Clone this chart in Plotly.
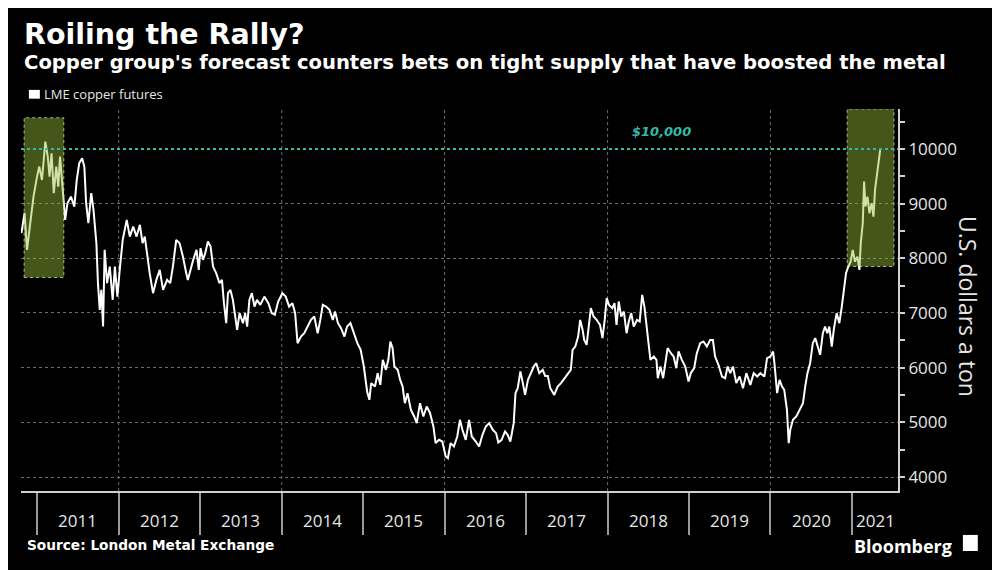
import plotly.graph_objects as go
import pandas as pd

# ---------------- data ----------------
series_name = "LME copper futures"

dates = [
    "2010-10-22", "2010-11-05", "2010-11-16", "2010-12-01", "2010-12-15", "2010-12-31",
    "2011-01-10", "2011-01-22", "2011-02-06", "2011-02-17", "2011-02-25", "2011-03-06", "2011-03-16",
    "2011-03-27", "2011-04-05", "2011-04-13", "2011-04-24", "2011-05-06", "2011-05-16", "2011-06-01",
    "2011-06-16", "2011-06-27", "2011-07-08", "2011-07-21", "2011-07-31", "2011-08-08", "2011-08-18",
    "2011-08-31", "2011-09-10", "2011-09-23", "2011-09-30", "2011-10-08", "2011-10-15", "2011-10-23",
    "2011-10-30", "2011-11-10", "2011-11-22", "2011-12-05", "2011-12-15", "2011-12-26",
    "2012-01-07", "2012-01-19", "2012-02-06", "2012-02-20", "2012-03-06", "2012-03-21", "2012-04-05",
    "2012-04-17", "2012-04-27", "2012-05-08", "2012-05-19", "2012-06-03", "2012-06-18", "2012-07-03",
    "2012-07-18", "2012-08-05", "2012-08-19", "2012-08-31", "2012-09-15", "2012-09-30", "2012-10-15",
    "2012-10-30", "2012-11-06", "2012-11-30", "2012-12-15", "2012-12-25",
    "2013-01-02", "2013-01-13", "2013-01-23", "2013-02-04", "2013-02-16", "2013-02-27", "2013-03-13",
    "2013-03-28", "2013-04-08", "2013-04-17", "2013-04-27", "2013-05-05", "2013-05-16", "2013-05-27",
    "2013-06-03", "2013-06-15", "2013-06-26", "2013-07-11", "2013-07-21", "2013-07-30", "2013-08-09",
    "2013-08-20", "2013-09-01", "2013-09-12", "2013-09-27", "2013-10-15", "2013-11-02", "2013-11-17",
    "2013-12-01", "2013-12-16",
    "2014-01-04", "2014-01-19", "2014-02-03", "2014-02-18", "2014-03-02", "2014-03-13", "2014-03-28",
    "2014-04-12", "2014-04-27", "2014-05-12", "2014-05-27", "2014-06-11", "2014-06-23", "2014-07-04",
    "2014-07-19", "2014-08-03", "2014-08-18", "2014-08-28", "2014-09-10", "2014-09-24", "2014-10-09",
    "2014-10-21", "2014-11-05", "2014-11-21", "2014-12-06", "2014-12-21",
    "2015-01-04", "2015-01-19", "2015-01-29", "2015-02-06", "2015-02-23", "2015-03-07", "2015-03-19",
    "2015-03-30", "2015-04-13", "2015-04-24", "2015-05-03", "2015-05-13", "2015-05-21", "2015-06-05",
    "2015-06-16", "2015-06-27", "2015-07-07", "2015-07-19", "2015-08-03", "2015-08-18", "2015-08-29",
    "2015-09-13", "2015-09-28", "2015-10-13", "2015-10-28", "2015-11-12", "2015-11-22", "2015-12-07",
    "2015-12-22",
    "2016-01-06", "2016-01-16", "2016-01-28", "2016-02-12", "2016-02-27", "2016-03-10", "2016-03-21",
    "2016-04-05", "2016-04-20", "2016-05-02", "2016-05-20", "2016-06-04", "2016-06-19", "2016-07-04",
    "2016-07-19", "2016-08-04", "2016-08-19", "2016-08-29", "2016-09-13", "2016-09-28", "2016-10-10",
    "2016-10-22", "2016-11-06", "2016-11-14", "2016-11-24", "2016-12-06", "2016-12-17", "2016-12-27",
    "2017-01-09", "2017-01-23", "2017-02-04", "2017-02-15", "2017-03-01", "2017-03-16", "2017-03-27",
    "2017-04-08", "2017-04-19", "2017-05-07", "2017-05-22", "2017-06-06", "2017-06-21", "2017-07-06",
    "2017-07-20", "2017-07-28", "2017-08-09", "2017-08-22", "2017-08-31", "2017-09-11", "2017-09-18",
    "2017-09-29", "2017-10-10", "2017-10-18", "2017-10-30", "2017-11-13", "2017-11-28", "2017-12-09",
    "2017-12-19", "2017-12-28",
    "2018-01-07", "2018-01-22", "2018-02-01", "2018-02-10", "2018-02-20", "2018-03-03", "2018-03-15",
    "2018-03-27", "2018-04-06", "2018-04-17", "2018-04-28", "2018-05-13", "2018-05-25", "2018-06-05",
    "2018-06-15", "2018-06-24", "2018-07-04", "2018-07-12", "2018-07-27", "2018-08-08", "2018-08-14",
    "2018-08-26", "2018-09-07", "2018-09-17", "2018-09-27", "2018-10-12", "2018-10-24", "2018-11-05",
    "2018-11-15", "2018-11-30", "2018-12-15", "2018-12-30",
    "2019-01-09", "2019-01-24", "2019-02-05", "2019-02-20", "2019-03-07", "2019-03-22", "2019-04-06",
    "2019-04-18", "2019-04-28", "2019-05-13", "2019-05-29", "2019-06-12", "2019-06-23", "2019-07-05",
    "2019-07-17", "2019-08-01", "2019-08-16", "2019-08-31", "2019-09-15", "2019-10-03", "2019-10-18",
    "2019-11-03", "2019-11-17", "2019-12-05", "2019-12-17",
    "2020-01-01", "2020-01-13", "2020-01-19", "2020-01-31", "2020-02-11", "2020-02-22", "2020-03-03",
    "2020-03-15", "2020-03-23", "2020-03-30", "2020-04-11", "2020-04-26", "2020-05-11", "2020-05-26",
    "2020-06-05", "2020-06-15", "2020-06-27", "2020-07-09", "2020-07-20", "2020-07-30", "2020-08-11",
    "2020-08-23", "2020-09-02", "2020-09-12", "2020-09-21", "2020-10-02", "2020-10-12", "2020-10-24",
    "2020-11-05", "2020-11-16", "2020-11-26", "2020-12-05", "2020-12-15", "2020-12-26",
    "2021-01-04", "2021-01-14", "2021-01-25", "2021-02-03", "2021-02-09", "2021-02-18", "2021-02-24",
    "2021-03-02", "2021-03-11", "2021-03-20", "2021-03-30", "2021-04-07", "2021-04-14", "2021-04-25",
    "2021-05-04", "2021-05-07",
]

prices = [
    8460, 8830, 8154, 8702, 9128, 9494,
    9677, 9433, 10134, 9860, 9494, 9921, 9190,
    9677, 9311, 9860, 9250, 8702, 9007, 9128,
    8946, 9433, 9738, 9830, 9677, 9007, 8641,
    9190, 8885, 8276, 7545, 7057, 7422, 6752,
    8154, 7545, 7849, 7240, 7849, 7300,
    7849, 8337, 8702, 8397, 8580, 8397, 8611,
    8276, 8397, 8031, 7728, 7362, 7605, 7788,
    7422, 7605, 7545, 7849, 8337, 8276, 8031,
    7728, 7605, 7971, 8154, 7788,
    8185, 7971, 8093, 8306, 8215, 7849, 7728,
    7545, 7605, 7180, 6814, 7362, 7422, 7240,
    7057, 6691, 6997, 6814, 6997, 6752, 7240,
    7362, 7118, 7240, 7149, 7300, 7180, 6997,
    6966, 7210,
    7362, 7300, 7118, 7180, 6997, 6448, 6569,
    6630, 6752, 6874, 6935, 6630, 6874, 7149,
    7118, 7057, 6874, 7027, 6814, 6722, 6569,
    6752, 6814, 6630, 6448, 6326,
    6021, 5560, 5412, 5717, 5655, 5899, 5686,
    6143, 5960, 6143, 6478, 6357, 6021, 5960,
    5777, 5655, 5351, 5534, 5229, 5107, 4986,
    5351, 5107, 5290, 5168, 4925, 4620, 4681,
    4650,
    4376, 4346, 4620, 4559, 4742, 5046, 4864,
    4681, 5046, 4742, 4650, 4559, 4772, 4925,
    4986, 4864, 4803, 4632, 4681, 4833, 4772,
    4650, 4986, 5534, 5625, 5930, 5717, 5503,
    5777, 5899, 6021, 6082, 5899, 5960, 5850,
    5850, 5625, 5503, 5655, 5717, 5808, 5899,
    5960, 6326, 6386, 6569, 6874, 6691, 6508,
    6417, 6814, 7088, 6935, 6874, 6783, 6540,
    6874, 7271,
    7149, 7088, 7180, 6783, 7210, 6935, 7027,
    6630, 6844, 6997, 6752, 6874, 6844, 7331,
    7118, 6752, 6448, 6143, 6204, 6143, 5808,
    6021, 5808, 6082, 6357, 6265, 6204, 5991,
    6296, 6143, 6021, 5747,
    5899, 5991, 6265, 6448, 6478, 6386, 6508,
    6508, 6204, 6052, 5838, 5808, 6021, 5899,
    6021, 5717, 5838, 5625, 5899, 5686, 5899,
    5838, 5899, 5838, 6174,
    6204, 6296, 6082, 5534, 5777, 5655, 5594,
    5229, 4620, 4864, 5046, 5107, 5229, 5351,
    5655, 5899, 6082, 6448, 6540, 6386, 6235,
    6630, 6752, 6630, 6752, 6386, 6722, 6997,
    6814, 7118, 7422, 7728, 7849, 7941,
    8154, 7941, 8031, 7788, 8276, 8641, 9403,
    8946, 9128, 8824, 9007, 8763, 9250, 9616,
    9951, 9980,
]

year_labels = [2011, 2012, 2013, 2014, 2015, 2016, 2017, 2018, 2019, 2020, 2021]
grid_years = ["2012-01-01", "2014-01-01", "2016-01-01", "2018-01-01", "2020-01-01"]
y_ticks = [4000, 5000, 6000, 7000, 8000, 9000, 10000]
threshold = 10000
threshold_label = "$10,000"
threshold_label_date = "2018-08-29"

# highlighted periods: (start, end, low, high)
highlights = [
    ("2010-11-03", "2011-04-30", 7650, 10570),
    ("2020-12-10", "2021-07-08", 7850, 10730),
]

x_range = ["2010-10-20", "2021-07-26"]
y_range = [3745, 10730]

# ---------------- styling ----------------
BG = "#000000"
TXT = "#e6e6e6"
GRID = "#6e6e6e"
AXIS = "#d0d0d0"
TEAL = "#35b8a8"
FONT = "Open Sans"
BOLD = "DejaVu Sans"

fig = go.Figure()
fig.add_trace(go.Scatter(
    x=dates, y=prices, mode="lines", name=series_name,
    line=dict(color="#ffffff", width=2), showlegend=False,
))

shapes = []
for g in grid_years:
    shapes.append(dict(type="line", xref="x", yref="paper", x0=g, x1=g, y0=0, y1=1,
                       line=dict(color=GRID, width=1, dash="dot"), layer="below"))
for (x0, x1, y0, y1) in highlights:
    shapes.append(dict(type="rect", xref="x", yref="y", x0=x0, x1=x1, y0=y0, y1=y1,
                       fillcolor="rgba(150,190,55,0.45)",
                       line=dict(color="rgba(215,230,185,0.75)", width=1, dash="dot"),
                       layer="above"))
shapes.append(dict(type="line", xref="paper", yref="y", x0=0, x1=1, y0=threshold, y1=threshold,
                   line=dict(color=TEAL, width=2, dash="dot"), layer="above"))

# legend square
shapes.append(dict(type="rect", xref="paper", yref="paper", x0=0.009, x1=0.0215, y0=1.027, y1=1.050,
                   fillcolor="#ffffff", line=dict(width=0)))
# Bloomberg mark box
shapes.append(dict(type="rect", xref="paper", yref="paper", x0=1.074, x1=1.091, y0=-0.157, y1=-0.115,
                   fillcolor="#ffffff", line=dict(width=0)))

annotations = []
# year labels centred in the visible part of each year
r0, r1 = pd.Timestamp(x_range[0]), pd.Timestamp(x_range[1])
for yr in year_labels:
    a = max(pd.Timestamp(f"{yr}-01-01"), r0)
    b = min(pd.Timestamp(f"{yr + 1}-01-01"), r1)
    mid = a + (b - a) / 2
    annotations.append(dict(x=mid.strftime("%Y-%m-%d"), y=-0.077, xref="x", yref="paper",
                            text=str(yr), showarrow=False, xanchor="center", yanchor="middle",
                            font=dict(family=FONT, size=17, color=TXT)))

annotations += [
    dict(x=0.001, y=1.195, xref="paper", yref="paper", text="Roiling the Rally?", showarrow=False,
         xanchor="left", yanchor="middle", font=dict(family=BOLD, size=28.5, color="#ffffff", weight="bold")),
    dict(x=0.001, y=1.121, xref="paper", yref="paper",
         text="Copper group's forecast counters bets on tight supply that have boosted the metal",
         showarrow=False, xanchor="left", yanchor="middle",
         font=dict(family=BOLD, size=19.6, color="#ffffff", weight="bold")),
    dict(x=0.024, y=1.038, xref="paper", yref="paper", text=series_name, showarrow=False,
         xanchor="left", yanchor="middle", font=dict(family=FONT, size=13, color=TXT)),
    dict(x=threshold_label_date, y=threshold, xref="x", yref="y", text=f"<i>{threshold_label}</i>",
         showarrow=False, xanchor="center", yanchor="bottom", yshift=8,
         font=dict(family=BOLD, size=13, color=TEAL, weight="bold")),
    dict(x=1.080, y=0.484, xref="paper", yref="paper", text="U.S. dollars a ton", showarrow=False,
         textangle=90, xanchor="center", yanchor="middle", font=dict(family=FONT, size=23, color=TXT)),
    dict(x=0.004, y=-0.141, xref="paper", yref="paper", text="Source: London Metal Exchange",
         showarrow=False, xanchor="left", yanchor="middle",
         font=dict(family=BOLD, size=13.7, color="#ffffff", weight="bold")),
    dict(x=1.064, y=-0.143, xref="paper", yref="paper", text="Bloomberg", showarrow=False,
         xanchor="right", yanchor="middle", font=dict(family=FONT, size=18, color="#ffffff", weight="bold")),
]

# the page adds an 8 px body margin, so the figure is offset by 8 px right and down
fig.update_layout(
    width=1000, height=570,
    paper_bgcolor=BG, plot_bgcolor=BG,
    margin=dict(l=13, r=110, t=101, b=87),
    showlegend=False,
    shapes=shapes,
    annotations=annotations,
    xaxis=dict(type="date", range=x_range, showgrid=False, zeroline=False,
               showline=True, linecolor=AXIS, linewidth=2,
               ticks="outside", ticklen=42, tickwidth=1.5, tickcolor="#9a9a9a",
               tick0="2011-01-01", dtick="M12", showticklabels=False),
    yaxis=dict(side="right", range=y_range, tickmode="array", tickvals=y_ticks, tickformat="d",
               showgrid=True, gridcolor=GRID, griddash="dot", gridwidth=1, zeroline=False,
               showline=True, linecolor=AXIS, linewidth=2,
               ticks="outside", ticklen=5, tickwidth=1.5, tickcolor=AXIS,
               tickfont=dict(family=FONT, size=17, color=TXT),
               minor=dict(ticks="outside", ticklen=5, tickwidth=1.5, tickcolor=AXIS,
                          dtick=500, tick0=0, showgrid=False)),
)

fig.write_html("out.html")
